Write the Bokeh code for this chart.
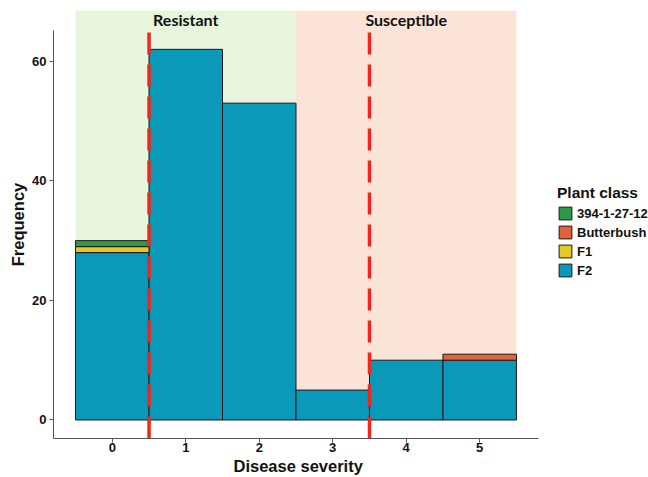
from bokeh.plotting import figure
from bokeh.models import ColumnDataSource, Legend, LegendItem, Label, Range1d, FixedTicker, Title
from bokeh.embed import file_html
from bokeh.resources import INLINE

# ---- data ----
severity = [0, 1, 2, 3, 4, 5]
f2_counts = [28, 62, 53, 5, 10, 10]
f1_counts = [1, 0, 0, 0, 0, 0]
butterbush_counts = [0, 0, 0, 0, 0, 1]
line394_counts = [1, 0, 0, 0, 0, 0]
classes = ["F2", "F1", "Butterbush", "394-1-27-12"]          # stacking order, bottom to top
legend_order = ["394-1-27-12", "Butterbush", "F1", "F2"]
class_colors = {"F2": "#0A99B8", "F1": "#E3CA25", "Butterbush": "#E4623B", "394-1-27-12": "#2E9A47"}
zone_names = ["Resistant", "Susceptible"]
zone_left = [-0.5, 2.5]
zone_right = [2.5, 5.5]
zone_colors = ["#E8F4DC", "#FBE4D7"]
zone_label_x = [1, 4]
cutoffs = [0.5, 3.5]
y_ticks = [0, 20, 40, 60]

counts = {"F2": f2_counts, "F1": f1_counts, "Butterbush": butterbush_counts, "394-1-27-12": line394_counts}

XMIN, XAXIS_END, XMAX = -0.8, 5.8, 7.297
YMIN, YTOP_AXIS, YMAX = -3.1, 65.1, 68.5

p = figure(width=648, height=477, x_range=Range1d(XMIN, XMAX), y_range=Range1d(YMIN, YMAX),
           output_backend="svg", toolbar_location=None,
           min_border_left=53, min_border_right=0, min_border_top=10, min_border_bottom=39)
p.outline_line_color = None
p.xgrid.visible = False
p.ygrid.visible = False
p.background_fill_color = "white"

# background zones
p.quad(left=zone_left, right=zone_right, bottom=[0, 0], top=[YMAX, YMAX],
       fill_color=zone_colors, line_color=None)

# stacked bars
renderers = {}
bottoms = [0] * len(severity)
for cls in classes:
    vals = counts[cls]
    xs, bs, ts = [], [], []
    for i, v in enumerate(vals):
        if v > 0:
            xs.append(severity[i]); bs.append(bottoms[i]); ts.append(bottoms[i] + v)
        bottoms[i] += v
    src = ColumnDataSource(dict(x=xs, bottom=bs, top=ts))
    renderers[cls] = p.vbar(x="x", bottom="bottom", top="top", width=1.0, source=src,
                            fill_color=class_colors[cls], line_color="#1a1a1a", line_width=1)

# dashed cutoffs
p.segment(x0=cutoffs, y0=[YMIN, YMIN], x1=cutoffs, y1=[YTOP_AXIS, YTOP_AXIS],
          line_color="#F2261C", line_width=3.5, line_dash="22 10")

# zone labels
for name, xx in zip(zone_names, zone_label_x):
    p.add_layout(Label(x=xx, y=67.0, text=name, text_align="center", text_baseline="middle",
                       text_font="Lato", text_font_style="bold", text_font_size="16px",
                       text_color="#111111"))

# axes
for ax in (p.xaxis[0], p.yaxis[0]):
    ax.axis_line_color = "#555555"
    ax.axis_line_width = 1
    ax.major_tick_line_color = "#555555"
    ax.major_tick_in = 0
    ax.major_tick_out = 4
    ax.minor_tick_line_color = None
    ax.major_label_text_font = "Liberation Sans"
    ax.major_label_text_font_style = "bold"
    ax.major_label_text_font_size = "13px"
    ax.major_label_text_color = "#111111"
    ax.axis_label_text_font = "Liberation Sans"
    ax.axis_label_text_font_style = "bold"
    ax.axis_label_text_font_size = "16.5px"
    ax.axis_label_text_color = "#111111"
p.xaxis[0].ticker = FixedTicker(ticks=severity)
p.xaxis[0].major_label_standoff = 0
p.xaxis[0].bounds = (XMIN, XAXIS_END)
p.yaxis[0].ticker = FixedTicker(ticks=y_ticks)
p.yaxis[0].major_label_standoff = 3
p.yaxis[0].bounds = (YMIN, YTOP_AXIS)
p.yaxis[0].axis_label = "Frequency"
p.yaxis[0].axis_label_standoff = 2

xtitle = Title(text="Disease severity", align="left", offset=180, standoff=0,
               text_font="Liberation Sans", text_font_style="bold", text_font_size="16.5px",
               text_color="#111111")
p.add_layout(xtitle, "below")

legend = Legend(items=[LegendItem(label=c, renderers=[renderers[c]]) for c in legend_order],
                location=(504, 160), title="Plant class",
                title_text_font="Liberation Sans", title_text_font_style="bold", title_text_font_size="15.5px",
                title_text_color="#111111",
                label_text_font="Liberation Sans", label_text_font_style="bold", label_text_font_size="13px",
                label_text_color="#111111",
                glyph_width=16, glyph_height=16, label_height=16, spacing=3, padding=0, margin=0,
                label_standoff=4, title_standoff=3, background_fill_alpha=0, border_line_color=None)
p.add_layout(legend)

open("out.html", "w").write(file_html(p, INLINE))
